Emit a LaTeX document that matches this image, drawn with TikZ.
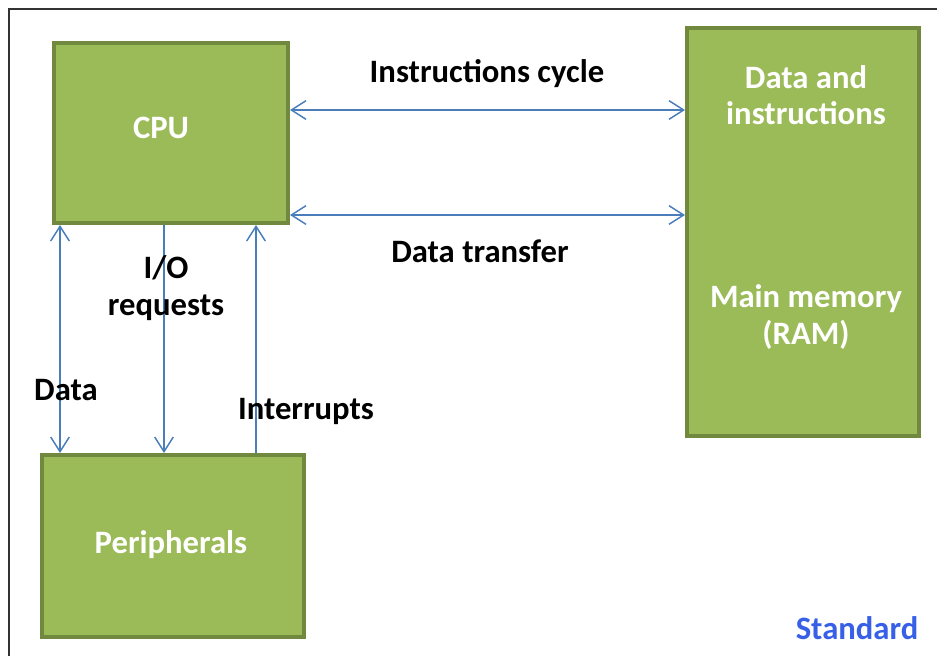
\documentclass[tikz,border=0pt]{standalone}
\usepackage{fontspec}
\setmainfont{Carlito}
\usetikzlibrary{arrows.meta}

\definecolor{boxfill}{RGB}{155,187,89}
\definecolor{boxline}{RGB}{113,137,63}
\definecolor{linkblue}{RGB}{74,126,187}
\definecolor{stdblue}{RGB}{55,96,230}

\tikzset{every picture/.style={line width=0.75pt},
	box/.style={draw=boxline, fill=boxfill, line width=3pt, inner sep=0pt},
	txt/.style={font=\bfseries\fontsize{24.5}{27.5}\selectfont, inner sep=0pt, align=center},
	intxt/.style={txt, text=white},
	link/.style={draw=linkblue, line width=1.1pt, >={Straight Barb[length=11pt,width=14pt]}}}

\begin{document}
\begin{tikzpicture}[x=0.75pt,y=0.75pt,yscale=-1]
	\useasboundingbox (0,0) rectangle (937,656);

	%Frame
	\draw [line width=1.5pt, black!80] (9,656) -- (9,9) -- (937,9) ;

	%Boxes
	\node [box, minimum width=175.5pt, minimum height=135pt] (cpu) at (171,133) {};
	\node [box, minimum width=174pt, minimum height=306pt] (mem) at (803,232) {};
	\node [box, minimum width=196.5pt, minimum height=136.5pt] (peri) at (173,546) {};

	%Text in boxes
	\node [intxt] (cputxt) at (161,128) {CPU};
	\node [intxt] (memtop) at (806,95) {Data and\\instructions};
	\node [intxt] (membot) at (806,317) {Main memory\\(RAM)};
	\node [intxt] (peritxt) at (171,545) {Peripherals};

	%Guides for the connectors
	\coordinate (yic) at (0,110);
	\coordinate (ydt) at (0,215);
	\coordinate (xdata) at (60,0);
	\coordinate (xio) at (164,0);
	\coordinate (xint) at (256,0);

	%Connectors
	\draw [link, <->] (cpu.east |- yic) -- (mem.west |- yic) ;
	\draw [link, <->] (cpu.east |- ydt) -- (mem.west |- ydt) ;
	\draw [link, <->] (cpu.south -| xdata) -- (peri.north -| xdata) ;
	\draw [link, ->] (cpu.south -| xio) -- (peri.north -| xio) ;
	\draw [link, ->] (peri.north -| xint) -- (cpu.south -| xint) ;

	% Text Node
	\node [txt] (ictxt) at (487,74) {Instructions cycle};
	% Text Node
	\node [txt] (dttxt) at (480,251) {Data transfer};
	% Text Node
	\node [txt] (iotxt) at (166,288) {I/O\\requests};
	% Text Node
	\node [txt] (datatxt) at (66,390) {Data};
	% Text Node
	\node [txt] (inttxt) at (306,411) {Interrupts};
	% Text Node
	\node [txt, text=stdblue] (stdtxt) at (857,628) {Standard};
\end{tikzpicture}
\end{document}
